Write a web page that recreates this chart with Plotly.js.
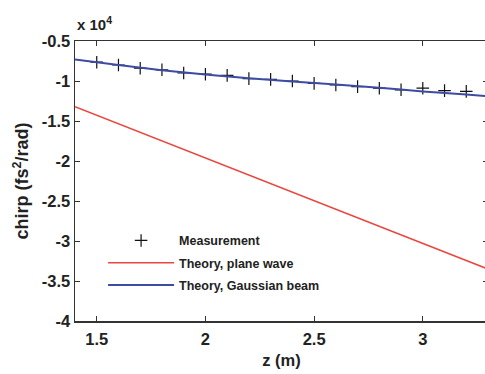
<!DOCTYPE html>
<html>
<head>
<meta charset="utf-8">
<script src="https://cdn.plot.ly/plotly-3.0.1.min.js"></script>
<style>html,body{margin:0;padding:0;overflow:hidden;background:#fff;width:485px;height:374px;}</style>
</head>
<body>
<div id="chart"></div>
<script>
// chirp values in units of 10^4 fs^2/rad
const measZ = [1.5,1.6,1.7,1.8,1.9,2.0,2.1,2.2,2.3,2.4,2.5,2.6,2.7,2.8,2.9,3.0,3.1,3.2];
const measChirp = [-0.765,-0.80,-0.84,-0.86,-0.90,-0.915,-0.93,-0.97,-0.98,-1.0,-1.03,-1.05,-1.07,-1.09,-1.11,-1.09,-1.12,-1.13];
const planeZ = [1.4,3.3];
const planeChirp = [-1.32,-3.35];
const gaussZ = [1.4,1.6,1.8,2.0,2.2,2.4,2.6,2.8,3.0,3.2,3.3];
const gaussChirp = [-0.73,-0.80,-0.865,-0.92,-0.965,-1.005,-1.045,-1.085,-1.13,-1.17,-1.19];
const yTicks = [-0.5,-1,-1.5,-2,-2.5,-3,-3.5,-4];
const yTickText = ['-0.5','-1','-1.5','-2','-2.5','-3','-3.5','-4'];
const xTicks = [1.5,2,2.5,3];
const xTickText = ['1.5','2','2.5','3'];

const fontFam = 'Liberation Sans, Arial, sans-serif';

const traces = [
  {x: measZ, y: measChirp, mode: 'markers', name: '<b>Measurement</b>', type: 'scatter', legendgroup: 'a',
   marker: {symbol: 'cross-thin-open', size: 9, color: '#111', line: {width: 1.2, color: '#111'}}},
  {x: planeZ, y: planeChirp, mode: 'lines', name: '<b>Theory, plane wave</b>', type: 'scatter', legendgroup: 'b',
   line: {color: '#e8473f', width: 1.5}},
  {x: gaussZ, y: gaussChirp, mode: 'lines', name: '<b>Theory, Gaussian beam</b>', type: 'scatter', legendgroup: 'c',
   line: {color: '#3d4ba3', width: 2, shape: 'spline'}}
];

const layout = {
  width: 490, height: 374,
  margin: {l: 75, r: 2, t: 41, b: 53},
  paper_bgcolor: '#fff', plot_bgcolor: '#fff',
  font: {family: fontFam, color: '#222'},
  showlegend: true,
  legend: {x: 0.068, y: 0.34, xanchor: 'left', yanchor: 'top', bgcolor: 'rgba(0,0,0,0)',
           itemwidth: 66, tracegroupgap: 3,
           font: {size: 12.5, family: fontFam, color: '#222'}},
  xaxis: {range: [1.4, 3.3], tickvals: xTicks, ticktext: xTickText, ticks: 'inside', ticklen: 5,
          ticklabelstandoff: 3,
          showline: true, linecolor: '#333', linewidth: 1.5, mirror: 'ticks', tickcolor: '#333',
          showgrid: false, zeroline: false,
          tickfont: {size: 16.5, family: fontFam, color: '#222', weight: 'bold'},
          title: {text: '<b>z (m)</b>', font: {size: 16.5, family: fontFam, color: '#222'}, standoff: 7}},
  yaxis: {range: [-4, -0.5], tickvals: yTicks, ticktext: yTickText, ticks: 'inside', ticklen: 5,
          showline: true, linecolor: '#333', linewidth: 1.5, mirror: 'ticks', tickcolor: '#333',
          showgrid: false, zeroline: false,
          tickfont: {size: 16.5, family: fontFam, color: '#222', weight: 'bold'},
          title: {text: '<b>chirp (fs<sup>2</sup>/rad)</b>', font: {size: 18, family: fontFam, color: '#222'}, standoff: 8}},
  annotations: [
    {xref: 'paper', yref: 'paper', x: 0, y: 1, xanchor: 'left', yanchor: 'bottom', yshift: 6,
     text: '<b>x 10<sup>4</sup></b>', showarrow: false, font: {size: 15, family: fontFam, color: '#222'}}
  ]
};

Plotly.newPlot('chart', traces, layout, {displayModeBar: false, staticPlot: true});
</script>
</body>
</html>
